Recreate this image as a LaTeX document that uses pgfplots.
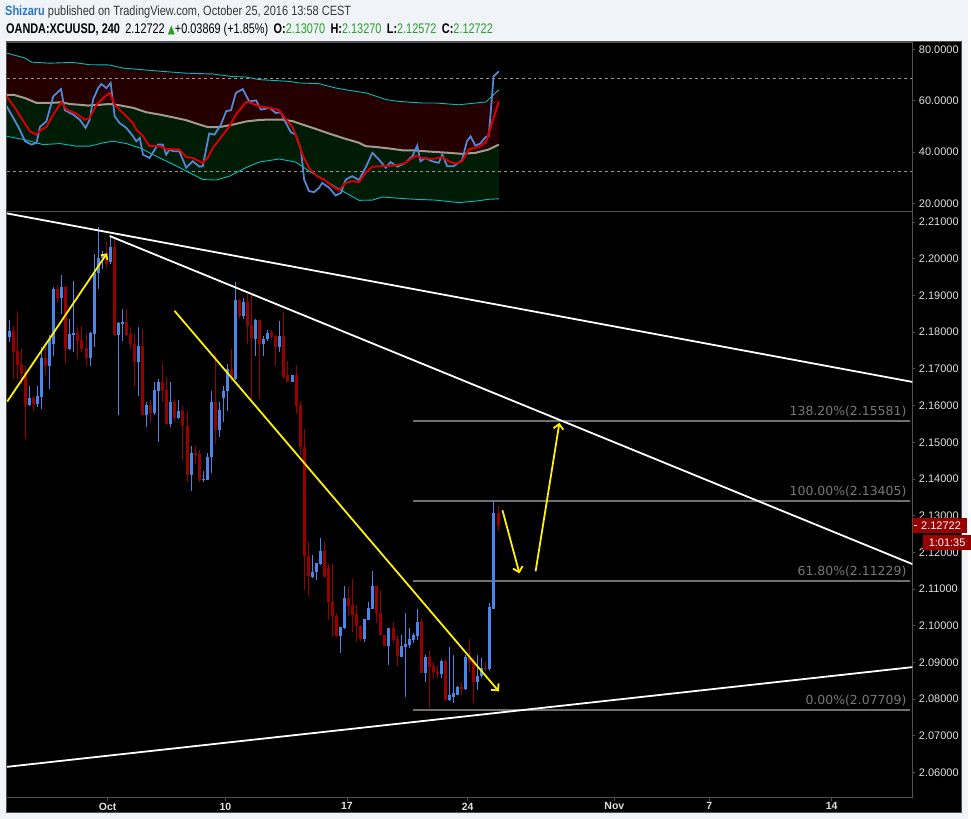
\documentclass[border=0pt]{standalone}
\usepackage{pgfplots}
\pgfplotsset{compat=1.18}
\usepackage{pgfplotstable}
\usetikzlibrary{arrows.meta}
\usepackage{fontspec}
\setmainfont{Liberation Sans}
\newfontfamily\dejavu{DejaVu Sans}
\usepackage{graphicx}

\definecolor{bgpale}{RGB}{240,243,247}
\definecolor{axgray}{RGB}{80,80,80}
\definecolor{labgray}{RGB}{225,225,225}
\definecolor{upblue}{RGB}{74,134,232}
\definecolor{dnred}{RGB}{150,0,0}
\definecolor{fibgray}{RGB}{112,112,112}
\definecolor{fibtext}{RGB}{120,120,120}
\definecolor{indred}{RGB}{36,0,0}
\definecolor{indgreen}{RGB}{0,28,5}
\definecolor{bandcyan}{RGB}{0,190,190}
\definecolor{midline}{RGB}{165,155,140}
\definecolor{rsiblue}{RGB}{85,135,215}
\definecolor{sigred}{RGB}{215,0,0}
\definecolor{tvgreen}{RGB}{40,160,40}
\definecolor{namblue}{RGB}{40,120,200}
\definecolor{txtdark}{RGB}{55,55,55}
\definecolor{pricered}{RGB}{153,0,0}
\definecolor{dashgray}{RGB}{150,150,150}

% up (blue) candles: bar index, open, high, low, close
\pgfplotstableread{
i o h l c
-24 2.1787 2.1833 2.1774 2.1803
-19 2.1602 2.1654 2.1600 2.1621
-17 2.1605 2.1654 2.1595 2.1625
-16 2.1624 2.1759 2.1591 2.1729
-14 2.1709 2.1792 2.1645 2.1781
-13 2.1768 2.1922 2.1736 2.1917
-11 2.1893 2.1955 2.1849 2.1924
-9 2.1754 2.1836 2.1752 2.1795
-8 2.1792 2.1939 2.1745 2.1799
-4 2.1730 2.1801 2.1709 2.1797
-3 2.1795 2.2014 2.1759 2.1961
-2 2.1960 2.2087 2.1917 2.2003
-1 2.2003 2.2021 2.1971 2.2014
1 2.1990 2.2060 2.1985 2.2033
3 2.1792 2.1827 2.1575 2.1825
4 2.1822 2.1863 2.1777 2.1827
8 2.1720 2.1814 2.1627 2.1762
10 2.1575 2.1611 2.1541 2.1602
12 2.1581 2.1663 2.1573 2.1643
13 2.1641 2.1672 2.1500 2.1664
16 2.1550 2.1663 2.1541 2.1611
18 2.1566 2.1614 2.1564 2.1586
21 2.1410 2.1491 2.1366 2.1471
24 2.1396 2.1423 2.1392 2.1401
25 2.1398 2.1471 2.1396 2.1460
26 2.1460 2.1641 2.1417 2.1609
28 2.1534 2.1611 2.1514 2.1588
29 2.1621 2.1654 2.1555 2.1641
30 2.1641 2.1713 2.1584 2.1700
32 2.1672 2.1937 2.1671 2.1887
34 2.1845 2.1894 2.1836 2.1881
37 2.1781 2.1835 2.1736 2.1833
39 2.1769 2.1790 2.1736 2.1781
40 2.1781 2.1807 2.1777 2.1799
43 2.1759 2.1830 2.1745 2.1790
46 2.1665 2.1684 2.1663 2.1682
51 2.1133 2.1194 2.1129 2.1147
52 2.1147 2.1171 2.1124 2.1170
53 2.1168 2.1240 2.1165 2.1204
58 2.0972 2.0997 2.0927 2.0996
59 2.0993 2.1109 2.0992 2.1075
64 2.0963 2.1018 2.0957 2.1017
65 2.1016 2.1066 2.1015 2.1049
66 2.1047 2.1150 2.1046 2.1108
70 2.0945 2.0994 2.0893 2.0993
73 2.0916 2.0975 2.0915 2.0945
74 2.0941 2.1034 2.0807 2.0950
75 2.0948 2.0993 2.0939 2.0963
76 2.0961 2.0980 2.0952 2.0975
77 2.0972 2.1045 2.0960 2.1009
79 2.0871 2.0921 2.0848 2.0916
83 2.0869 2.0906 2.0857 2.0905
85 2.0798 2.0941 2.0794 2.0812
86 2.0807 2.0921 2.0789 2.0816
87 2.0812 2.0836 2.0811 2.0833
89 2.0828 2.0921 2.0826 2.0916
92 2.0848 2.0921 2.0826 2.0864
93 2.0864 2.0913 2.0857 2.0884
95 2.0882 2.1061 2.0877 2.1050
96 2.1047 2.1340 2.1045 2.1308
}\upc

% down (red) candles
\pgfplotstableread{
i o h l c
-23 2.1803 2.1817 2.1672 2.1747
-22 2.1750 2.1858 2.1672 2.1711
-21 2.1713 2.1754 2.1659 2.1686
-20 2.1691 2.1709 2.1509 2.1602
-18 2.1621 2.1627 2.1586 2.1605
-15 2.1729 2.1759 2.1682 2.1709
-12 2.1917 2.1928 2.1881 2.1894
-10 2.1924 2.1926 2.1713 2.1754
-7 2.1799 2.1813 2.1727 2.1777
-6 2.1778 2.1817 2.1745 2.1754
-5 2.1756 2.1799 2.1709 2.1729
0 2.2017 2.2046 2.1976 2.1985
2 2.2033 2.2058 2.1790 2.1792
5 2.1827 2.1863 2.1790 2.1792
6 2.1795 2.1813 2.1754 2.1768
7 2.1769 2.1795 2.1652 2.1720
9 2.1762 2.1808 2.1573 2.1575
11 2.1602 2.1616 2.1555 2.1581
14 2.1664 2.1715 2.1609 2.1641
15 2.1643 2.1677 2.1546 2.1550
17 2.1611 2.1618 2.1555 2.1566
19 2.1586 2.1600 2.1450 2.1544
20 2.1544 2.1586 2.1393 2.1410
22 2.1471 2.1491 2.1441 2.1466
23 2.1469 2.1478 2.1393 2.1396
27 2.1611 2.1740 2.1496 2.1534
31 2.1700 2.1754 2.1663 2.1672
33 2.1887 2.1890 2.1836 2.1845
35 2.1881 2.1903 2.1768 2.1817
36 2.1819 2.1908 2.1618 2.1783
38 2.1833 2.1835 2.1618 2.1769
41 2.1801 2.1807 2.1781 2.1787
42 2.1790 2.1792 2.1707 2.1759
44 2.1790 2.1854 2.1672 2.1679
45 2.1682 2.1722 2.1663 2.1665
47 2.1682 2.1711 2.1577 2.1600
48 2.1602 2.1612 2.1464 2.1486
49 2.1487 2.1537 2.1097 2.1191
50 2.1191 2.1229 2.1081 2.1135
54 2.1204 2.1229 2.1132 2.1133
55 2.1156 2.1167 2.1016 2.1066
56 2.1066 2.1167 2.0970 2.1027
57 2.1027 2.1036 2.0969 2.0972
60 2.1075 2.1105 2.1027 2.1054
61 2.1056 2.1126 2.0984 2.1029
62 2.1032 2.1056 2.0957 2.0999
63 2.1000 2.1001 2.0959 2.0963
67 2.1108 2.1109 2.1007 2.1034
68 2.1036 2.1097 2.0974 2.0975
69 2.0975 2.0976 2.0944 2.0945
71 2.0993 2.1011 2.0952 2.0961
72 2.0963 2.0975 2.0891 2.0918
78 2.1009 2.1022 2.0870 2.0871
80 2.0914 2.0934 2.0777 2.0887
81 2.0889 2.0902 2.0854 2.0875
82 2.0875 2.0889 2.0857 2.0869
84 2.0905 2.0906 2.0796 2.0798
88 2.0833 2.0848 2.0812 2.0828
90 2.0914 2.0963 2.0873 2.0902
91 2.0905 2.0916 2.0789 2.0848
94 2.0886 2.0901 2.0877 2.0882
97 2.1307 2.1327 2.1257 2.1272
}\dnc

\pgfplotsset{
  tvaxis/.style={
    scale only axis, clip mode=individual,
    axis background/.style={fill=black},
    axis line style={draw=axgray, line width=1pt},
    xmin=-24.57, xmax=199.6,
    ytick pos=right, yticklabel pos=right,
    tick align=outside, major tick length=3pt,
    tick style={draw=axgray, line width=0.8pt},
    scaled y ticks=false,
    /pgf/number format/assume math mode=true,
    yticklabel style={font=\fontsize{11}{12}\selectfont, text=labgray, anchor=west},
  },
  wick/.style={draw=none, mark=none, error bars/.cd, y dir=both, y explicit, error mark=none,
    error bar style={draw=#1, line width=1pt}},
  body/.style={draw=none, mark=none, error bars/.cd, y dir=both, y explicit, error mark=none,
    error bar style={draw=#1, line width=3pt}},
}

\begin{document}
\begin{tikzpicture}[x=1pt,y=1pt]
\fill[bgpale] (0,0) rectangle (971,821);
\fill[black] (7,6) rectangle (964,779);
\draw[axgray, line width=1pt] (7,6) rectangle (964,779);

% header
\node[anchor=west, inner sep=0pt] at (5,809) {\resizebox{347pt}{\height}{\fontsize{13.5}{15}\selectfont{\color{namblue}\bfseries Shizaru} {\color{txtdark}published on TradingView.com, October 25, 2016 13:58 CEST}}};
\node[anchor=west, inner sep=0pt] at (6,791) {\resizebox{488pt}{\height}{\fontsize{14}{16}\selectfont\color{black}{\bfseries OANDA:XCUUSD, 240}\enspace 2.12722 {\color{tvgreen}\dejavu\fontsize{12}{14}\selectfont ▲}+0.03869 (+1.85\%)\enspace{\bfseries O:}{\color{tvgreen}2.13070}\enspace{\bfseries H:}{\color{tvgreen}2.13270}\enspace{\bfseries L:}{\color{tvgreen}2.12572}\enspace{\bfseries C:}{\color{tvgreen}2.12722}}};

% ---------------- indicator pane ----------------
\begin{axis}[tvaxis,
  at={(7pt,609pt)}, anchor=south west, width=908pt, height=169pt,
  ymin=16.9, ymax=82.5, xtick=\empty,
  ytick={20,40,60,80},
  yticklabel style={/pgf/number format/fixed, /pgf/number format/fixed zerofill, /pgf/number format/precision=4},
]
% band between upper band and basis (dark red)
\addplot[fill=indred, draw=none] coordinates {(-24.6,78.5) (-20.1,76.6) (-18.5,75.0) (-14,74.6) (-8.3,74.9) (-4.1,74.0) (0.8,73.9) (4.1,72.7) (10.7,71.8) (16.4,71.1) (19.8,70.7) (26.3,70.4) (31.2,69.4) (34.6,69.2) (37.9,68.2) (45.3,67.5) (47.7,66.9) (52.7,66.6) (56.9,64.9) (60.2,64.0) (64.4,63.0) (69.3,60.4) (72.5,59.7) (78.2,59.1) (81.6,59.1) (87.3,58.4) (91.5,59.1) (94,59.5) (97.2,64.3)
 (97.2,42.9) (94.7,41.0) (91.4,39.7) (88.1,39.3) (84.8,39.7) (79.9,40.2) (76.6,40.6) (73.3,40.7) (70,41.4) (66.7,42.0) (64.2,42.3) (62.6,43.6) (58.5,45.5) (55.2,47.2) (51.9,49.0) (48.6,50.7) (46.2,52.0) (43.7,52.6) (39.6,52.6) (37.9,52.5) (34.6,51.9) (31.4,50.7) (28,49.7) (25.2,49.7) (23.1,50.7) (19.8,52.4) (16.6,53.5) (13.2,54.6) (9.9,55.5) (6.7,57.2) (3.3,58.2) (0.8,58.7) (-1.6,58.4) (-4.5,58.1) (-6.5,58.4) (-9,58.7) (-11.1,59.4) (-14,59.1) (-17.2,59.1) (-20.1,61.0) (-23,62.3) (-24.6,62.3)};
% band between basis and lower band (dark green)
\addplot[fill=indgreen, draw=none] coordinates {(-24.6,62.3) (-23,62.3) (-20.1,61.0) (-17.2,59.1) (-14,59.1) (-11.1,59.4) (-9,58.7) (-6.5,58.4) (-4.5,58.1) (-1.6,58.4) (0.8,58.7) (3.3,58.2) (6.7,57.2) (9.9,55.5) (13.2,54.6) (16.6,53.5) (19.8,52.4) (23.1,50.7) (25.2,49.7) (28,49.7) (31.4,50.7) (34.6,51.9) (37.9,52.5) (39.6,52.6) (43.7,52.6) (46.2,52.0) (48.6,50.7) (51.9,49.0) (55.2,47.2) (58.5,45.5) (62.6,43.6) (64.2,42.3) (66.7,42.0) (70,41.4) (73.3,40.7) (76.6,40.6) (79.9,40.2) (84.8,39.7) (88.1,39.3) (91.4,39.7) (94.7,41.0) (97.2,42.9)
 (97.2,21.8) (94.7,21.6) (91.4,20.9) (87.3,20.3) (81.5,21.3) (76.6,21.6) (72.5,22.0) (68.4,22.5) (65.9,21.3) (62.6,21.2) (59.3,24.1) (54.4,28.7) (50.2,32.6) (46.9,36.1) (42.8,37.3) (37.9,36.1) (34.6,33.9) (30.5,30.6) (27.2,29.1) (23.9,29.3) (19.8,32.6) (16.6,35.2) (13.2,37.7) (8.3,41.6) (5,43.3) (1.7,44.2) (-0.7,43.6) (-4.1,42.3) (-7.4,42.3) (-11.5,43.3) (-15.6,42.9) (-20.5,44.9) (-24.6,46.1)};
\addplot[dashgray, dashed, line width=0.8pt] coordinates {(-24.57,68.8) (199.6,68.8)};
\addplot[dashgray, dashed, line width=0.8pt] coordinates {(-24.57,32.3) (199.6,32.3)};
\addplot[bandcyan, line width=0.9pt] coordinates {(-24.6,78.5) (-20.1,76.6) (-18.5,75.0) (-14,74.6) (-8.3,74.9) (-4.1,74.0) (0.8,73.9) (4.1,72.7) (10.7,71.8) (16.4,71.1) (19.8,70.7) (26.3,70.4) (31.2,69.4) (34.6,69.2) (37.9,68.2) (45.3,67.5) (47.7,66.9) (52.7,66.6) (56.9,64.9) (60.2,64.0) (64.4,63.0) (69.3,60.4) (72.5,59.7) (78.2,59.1) (81.6,59.1) (87.3,58.4) (91.5,59.1) (94,59.5) (97.2,64.3)};
\addplot[bandcyan, line width=0.9pt] coordinates {(-24.6,46.1) (-20.5,44.9) (-15.6,42.9) (-11.5,43.3) (-7.4,42.3) (-4.1,42.3) (-0.7,43.6) (1.7,44.2) (5,43.3) (8.3,41.6) (13.2,37.7) (16.6,35.2) (19.8,32.6) (23.9,29.3) (27.2,29.1) (30.5,30.6) (34.6,33.9) (37.9,36.1) (42.8,37.3) (46.9,36.1) (50.2,32.6) (54.4,28.7) (59.3,24.1) (62.6,21.2) (65.9,21.3) (68.4,22.5) (72.5,22.0) (76.6,21.6) (81.5,21.3) (87.3,20.3) (91.4,20.9) (94.7,21.6) (97.2,21.8)};
\addplot[midline, line width=2pt] coordinates {(-24.6,62.3) (-23,62.3) (-20.1,61.0) (-17.2,59.1) (-14,59.1) (-11.1,59.4) (-9,58.7) (-6.5,58.4) (-4.5,58.1) (-1.6,58.4) (0.8,58.7) (3.3,58.2) (6.7,57.2) (9.9,55.5) (13.2,54.6) (16.6,53.5) (19.8,52.4) (23.1,50.7) (25.2,49.7) (28,49.7) (31.4,50.7) (34.6,51.9) (37.9,52.5) (39.6,52.6) (43.7,52.6) (46.2,52.0) (48.6,50.7) (51.9,49.0) (55.2,47.2) (58.5,45.5) (62.6,43.6) (64.2,42.3) (66.7,42.0) (70,41.4) (73.3,40.7) (76.6,40.6) (79.9,40.2) (84.8,39.7) (88.1,39.3) (91.4,39.7) (94.7,41.0) (97.2,42.9)};
\addplot[rsiblue, line width=1.8pt] coordinates {(-24.65,57.8) (-23.0,53.3) (-21.4,48.7) (-20.1,44.2) (-18.5,42.9) (-17.25,43.6) (-16.4,49.8) (-14.8,52.0) (-13.1,61.7) (-11.2,64.5) (-10.25,56.3) (-8.2,54.6) (-6.55,52.6) (-5.1,49.4) (-4.1,52.6) (-3.25,60.4) (-2.0,64.9) (-1.2,66.5) (0.04,64.9) (1.1,66.9) (2.1,53.9) (3.3,51.3) (5.0,49.4) (6.6,46.2) (7.45,44.2) (8.3,45.5) (9.1,39.0) (10.7,37.7) (12.8,42.9) (14.0,42.9) (14.85,39.0) (15.7,41.0) (16.5,40.3) (18.1,40.3) (19.8,33.9) (21.4,36.4) (23.1,34.3) (23.9,34.5) (25.5,47.2) (26.8,46.8) (28.4,50.7) (29.7,55.9) (30.9,56.3) (32.1,63.0) (33.8,64.5) (35.4,59.7) (37.1,60.1) (38.3,56.5) (40.4,57.2) (42.0,55.2) (43.2,55.5) (44.5,51.3) (45.7,47.7) (46.9,46.8) (48.2,41.0) (49.0,29.3) (50.2,24.8) (51.5,24.4) (52.7,26.1) (53.5,28.0) (55.2,26.1) (56.8,23.1) (58.1,24.1) (59.3,29.3) (60.9,30.6) (62.6,29.1) (64.2,33.9) (65.9,39.7) (67.5,37.1) (69.2,33.9) (70.4,36.1) (72.1,34.3) (74.1,35.8) (75.8,38.4) (77.0,42.5) (77.8,36.4) (79.0,37.7) (80.7,36.4) (82.3,35.8) (83.2,39.0) (84.4,34.5) (86.0,34.5) (88.1,36.8) (89.3,44.2) (90.2,46.1) (91.4,42.5) (92.6,43.3) (93.9,45.8) (94.7,46.1) (95.9,69.4) (97.2,71.4)};
\addplot[sigred, line width=2pt] coordinates {(-24.65,61.7) (-22.6,57.2) (-20.5,52.0) (-18.9,48.1) (-17.4,46.8) (-16.0,48.7) (-14.8,49.8) (-13.1,54.6) (-11.1,59.4) (-9.8,56.5) (-7.4,55.0) (-5.3,52.6) (-4.1,53.3) (-2.4,58.4) (-0.8,61.0) (0.86,63.0) (2.1,58.4) (4.15,55.2) (6.6,51.3) (7.45,48.7) (9.1,46.2) (10.7,42.3) (13.2,42.3) (14.85,41.2) (18.1,41.0) (19.8,38.1) (21.4,37.7) (23.9,35.8) (25.1,37.7) (26.4,41.6) (28.0,44.85) (30.5,50.0) (32.1,54.6) (34.6,59.4) (35.4,59.4) (37.9,57.8) (40.4,57.2) (42.8,56.3) (44.5,52.6) (46.1,49.8) (47.4,44.85) (48.6,39.0) (50.2,33.9) (51.9,30.9) (53.9,29.3) (56.0,26.7) (57.6,25.2) (59.3,28.0) (60.9,28.7) (62.6,28.3) (64.2,31.9) (65.9,34.3) (68.4,34.5) (71.6,34.8) (74.1,35.8) (76.6,38.6) (78.2,37.7) (80.7,37.3) (83.2,38.0) (84.8,36.4) (86.5,35.5) (88.1,36.4) (89.8,41.0) (92.2,42.0) (94.0,43.8) (95.5,51.3) (97.2,59.7)};
\end{axis}

% ---------------- main price pane ----------------
\begin{axis}[tvaxis,
  at={(7pt,21pt)}, anchor=south west, width=908pt, height=588pt,
  ymin=2.05312, ymax=2.21291,
  xtick={0.37,29.5,59.6,89.5,125.8,149.3,179.6},
  xticklabels={Oct,10,17,24,Nov,7,14},
  xtick pos=bottom,
  xticklabel style={font=\bfseries\fontsize{10.5}{12}\selectfont, text=labgray, yshift=1.5pt},
  ytick={2.06,2.07,2.08,2.09,2.10,2.11,2.12,2.13,2.14,2.15,2.16,2.17,2.18,2.19,2.20,2.21},
  yticklabel style={/pgf/number format/fixed, /pgf/number format/fixed zerofill, /pgf/number format/precision=5},
]
% fibonacci levels
\addplot[fibgray, line width=2pt] coordinates {(76,2.15581) (198.9,2.15581)};
\addplot[fibgray, line width=2pt] coordinates {(76,2.13405) (198.9,2.13405)};
\addplot[fibgray, line width=2pt] coordinates {(76,2.11229) (198.9,2.11229)};
\addplot[fibgray, line width=2pt] coordinates {(76,2.07709) (198.9,2.07709)};
\node[anchor=south east, text=fibtext, inner sep=1pt, font=\dejavu\fontsize{12.5}{14}\selectfont] at (axis cs:198.4,2.15641) {138.20\%(2.15581)};
\node[anchor=south east, text=fibtext, inner sep=1pt, font=\dejavu\fontsize{12.5}{14}\selectfont] at (axis cs:198.4,2.13465) {100.00\%(2.13405)};
\node[anchor=south east, text=fibtext, inner sep=1pt, font=\dejavu\fontsize{12.5}{14}\selectfont] at (axis cs:198.4,2.11289) {61.80\%(2.11229)};
\node[anchor=south east, text=fibtext, inner sep=1pt, font=\dejavu\fontsize{12.5}{14}\selectfont] at (axis cs:198.4,2.07769) {0.00\%(2.07709)};
% candles: wicks then bodies
\addplot[wick=upblue] table[x=i, y expr={(\thisrow{h}+\thisrow{l})/2}, y error expr={(\thisrow{h}-\thisrow{l})/2}] {\upc};
\addplot[wick=dnred] table[x=i, y expr={(\thisrow{h}+\thisrow{l})/2}, y error expr={(\thisrow{h}-\thisrow{l})/2}] {\dnc};
\addplot[body=upblue] table[x=i, y expr={(\thisrow{o}+\thisrow{c})/2}, y error expr={max(abs(\thisrow{c}-\thisrow{o})/2,0.00014)}] {\upc};
\addplot[body=dnred] table[x=i, y expr={(\thisrow{o}+\thisrow{c})/2}, y error expr={max(abs(\thisrow{c}-\thisrow{o})/2,0.00014)}] {\dnc};
% trend lines
\addplot[white, line width=1.8pt] coordinates {(-24.57,2.21236) (199.6,2.16644)};
\addplot[white, line width=1.8pt] coordinates {(0.86,2.2062) (199.6,2.11679)};
\addplot[white, line width=1.8pt] coordinates {(-24.57,2.06155) (199.6,2.08872)};
% yellow arrows
\addplot[yellow, line width=1.8pt, -{Straight Barb[length=4pt,width=8pt]}] coordinates {(-24.5,2.16109) (0.2,2.20150)};
\addplot[yellow, line width=1.8pt, -{Straight Barb[length=5pt,width=10pt]}] coordinates {(16.9,2.18582) (97.2,2.08212)};
\addplot[yellow, line width=1.8pt, -{Straight Barb[length=5pt,width=10pt]}] coordinates {(98.1,2.13147) (102.3,2.11427)};
\addplot[yellow, line width=1.8pt, -{Straight Barb[length=5pt,width=10pt]}] coordinates {(106.3,2.11481) (112.2,2.15530)};
% last price labels
\node[anchor=west, fill=pricered, text=white, inner xsep=3pt, inner ysep=0pt, minimum height=15pt, minimum width=55pt, font=\fontsize{11}{12}\selectfont] at (axis cs:199.6,2.12722) {\hspace*{2pt}2.12722};
\node[anchor=west, fill=white, inner sep=0pt, minimum width=3pt, minimum height=1pt, xshift=1pt] at (axis cs:199.6,2.12722) {};
\node[anchor=west, fill=pricered, text=white, inner xsep=3pt, inner ysep=0pt, minimum height=15pt, minimum width=48pt, font=\fontsize{11}{12}\selectfont] at (axis cs:202.2,2.12269) {1:01:35};
\end{axis}
\end{tikzpicture}
\end{document}
